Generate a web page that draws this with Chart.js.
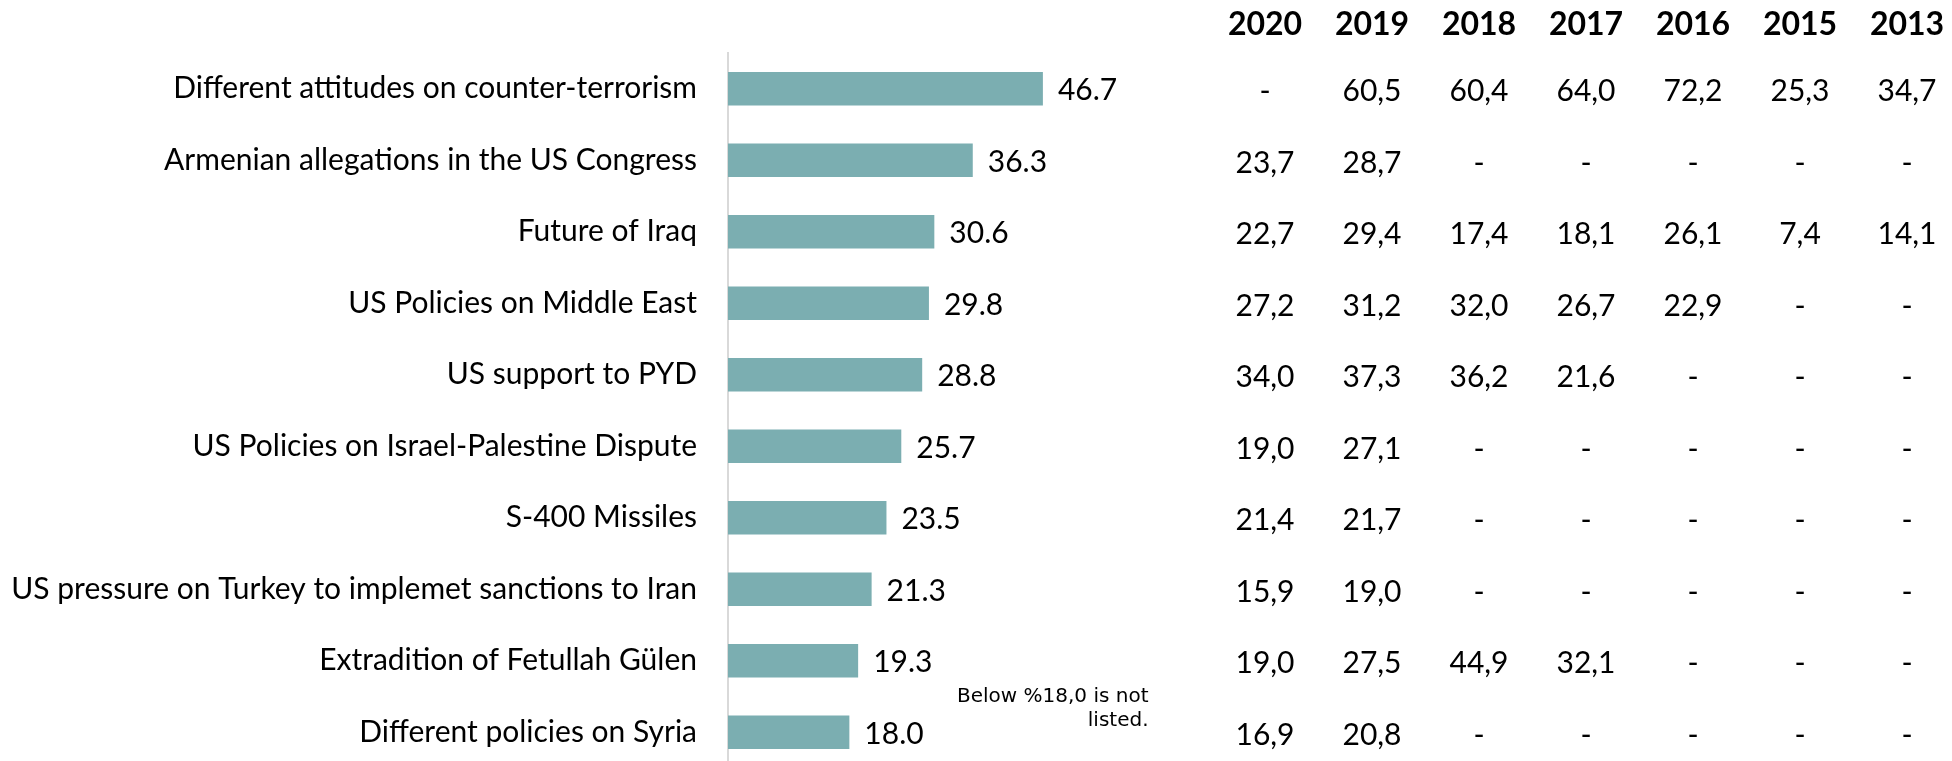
<!DOCTYPE html>
<html>
<head>
<meta charset="utf-8">
<script src="https://cdn.jsdelivr.net/npm/chart.js@4/dist/chart.umd.min.js"></script>
<style>
  html, body { margin: 0; padding: 0; background: #fff; overflow: hidden; }
  canvas { display: block; }
</style>
</head>
<body>
<canvas id="grafico" width="1952" height="768"></canvas>
<script>
// datos
const categorias = [
  'Different attitudes on counter-terrorism',
  'Armenian allegations in the US Congress',
  'Future of Iraq',
  'US Policies on Middle East',
  'US support to PYD',
  'US Policies on Israel-Palestine Dispute',
  'S-400 Missiles',
  'US pressure on Turkey to implemet sanctions to Iran',
  'Extradition of Fetullah Gülen',
  'Different policies on Syria'
];
const valores = [46.7, 36.3, 30.6, 29.8, 28.8, 25.7, 23.5, 21.3, 19.3, 18.0];

const años = ['2020', '2019', '2018', '2017', '2016', '2015', '2013'];
const v2020 = [null, 23.7, 22.7, 27.2, 34.0, 19.0, 21.4, 15.9, 19.0, 16.9];
const v2019 = [60.5, 28.7, 29.4, 31.2, 37.3, 27.1, 21.7, 19.0, 27.5, 20.8];
const v2018 = [60.4, null, 17.4, 32.0, 36.2, null, null, null, 44.9, null];
const v2017 = [64.0, null, 18.1, 26.7, 21.6, null, null, null, 32.1, null];
const v2016 = [72.2, null, 26.1, 22.9, null, null, null, null, null, null];
const v2015 = [25.3, null, 7.4, null, null, null, null, null, null, null];
const v2013 = [34.7, null, 14.1, null, null, null, null, null, null, null];
const columnas = [v2020, v2019, v2018, v2017, v2016, v2015, v2013];

const nota = ['Below %18,0 is not', 'listed.'];

const FUENTE = 'Lato, "Open Sans", sans-serif';
const colX = [1265, 1372, 1479, 1586, 1693, 1800, 1907];

function formato(v) {
  return v === null ? '-' : v.toFixed(1).replace('.', ',');
}

const etiquetas = {
  id: 'etiquetas',
  afterDatasetsDraw(chart) {
    const ctx = chart.ctx;
    const meta = chart.getDatasetMeta(0);
    ctx.save();
    ctx.fillStyle = '#000';
    ctx.font = '30px ' + FUENTE;
    ctx.textAlign = 'left';
    ctx.textBaseline = 'middle';
    meta.data.forEach((bar, i) => {
      ctx.fillText(valores[i].toFixed(1), bar.x + 15, bar.y + 2);
    });
    ctx.restore();
  }
};

const tabla = {
  id: 'tabla',
  afterDraw(chart) {
    const ctx = chart.ctx;
    const y = chart.scales.y;
    ctx.save();
    ctx.fillStyle = '#000';
    ctx.textAlign = 'center';
    ctx.textBaseline = 'middle';
    ctx.font = 'bold 32px ' + FUENTE;
    años.forEach((a, j) => ctx.fillText(a, colX[j], 25));
    ctx.font = '30px ' + FUENTE;
    columnas.forEach((col, j) => {
      col.forEach((v, i) => {
        ctx.fillText(formato(v), colX[j], y.getPixelForValue(i) + 3);
      });
    });
    // nota
    ctx.font = '20px "DejaVu Sans", sans-serif';
    ctx.textAlign = 'left';
    const ancho = ctx.measureText(nota[0]).width;
    ctx.fillText(nota[0], 957, 697);
    ctx.textAlign = 'right';
    ctx.fillText(nota[1], 957 + ancho, 721);
    ctx.restore();
  }
};

new Chart(document.getElementById('grafico'), {
  type: 'bar',
  data: {
    labels: categorias,
    datasets: [{
      data: valores,
      backgroundColor: '#7BAEB1',
      barPercentage: 0.467,
      categoryPercentage: 1
    }]
  },
  options: {
    indexAxis: 'y',
    responsive: false,
    animation: false,
    layout: { padding: { top: 53, right: 752, bottom: 0, left: 0 } },
    plugins: {
      legend: { display: false },
      tooltip: { enabled: false }
    },
    scales: {
      x: {
        display: false,
        min: 0,
        max: 70
      },
      y: {
        afterFit(scale) {
          scale.width = 728;
          scale.paddingTop = 0;
          scale.paddingBottom = 0;
        },
        grid: { display: false, drawTicks: false },
        border: { display: true, color: '#D9D9D9', width: 2 },
        ticks: {
          padding: 31,
          color: '#000',
          font: { family: FUENTE, size: 30 }
        }
      }
    }
  },
  plugins: [etiquetas, tabla]
});
</script>
</body>
</html>
